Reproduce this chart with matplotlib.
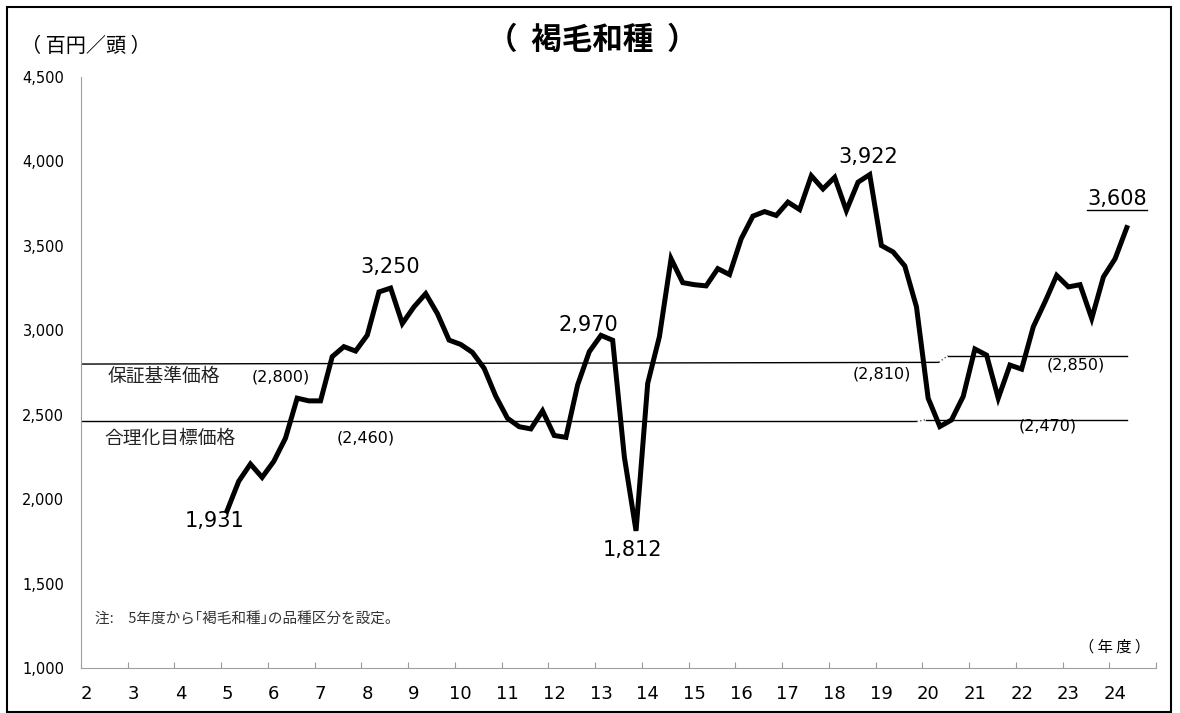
import numpy as np
import matplotlib
matplotlib.use("Agg")
import matplotlib.pyplot as plt
from matplotlib.lines import Line2D
from matplotlib.patches import Rectangle

plt.rcParams['font.family'] = ['DejaVu Sans', 'Noto Sans CJK JP']
JP = ['Noto Sans CJK JP', 'DejaVu Sans']

# fiscal years on the axis, data is quarterly from FY5 Q1
years = list(range(2, 25))
first_year = 5
prices = [1931, 2106, 2208, 2129, 2224, 2361, 2598, 2582,
          2582, 2844, 2903, 2877, 2971, 3227, 3250, 3040,
          3139, 3217, 3099, 2942, 2916, 2869, 2775, 2609,
          2479, 2429, 2416, 2523, 2377, 2366, 2676, 2873,
          2970, 2941, 2250, 1812, 2686, 2962, 3424, 3282,
          3270, 3263, 3365, 3330, 3542, 3676, 3703, 3680,
          3759, 3715, 3915, 3837, 3906, 3709, 3877, 3922,
          3502, 3464, 3381, 3139, 2598, 2430, 2469, 2608,
          2889, 2853, 2598, 2794, 2770, 3021, 3168, 3325,
          3257, 3270, 3070, 3316, 3424, 3608]

# 保証基準価格 / 合理化目標価格
guarantee_old = [2800, 2810]
guarantee_new = 2850
target_old = 2460
target_new = 2470

# labelled points (position in prices) and pixel offsets of the label
label_pts = [0, 14, 32, 35, 55, 77]
label_off = [(-12, -10), (0, 21), (-13, 10), (-4, -19), (-1, 18), (-10, 29)]

x0 = (first_year - years[0]) * 4
xq = np.arange(x0, x0 + len(prices))
x_end = xq[-1]

fig = plt.figure(figsize=(11.8, 7.13), dpi=100)
ax = fig.add_axes([81 / 1180, 1 - 668 / 713, 1075 / 1180, 591 / 713])

# reference price lines
ax.plot([-0.5, 72.9], guarantee_old, color='black', lw=1.0)
ax.plot([72.9, 73.7], [guarantee_old[1], guarantee_new], color='#555555', lw=1.0, ls=':')
ax.plot([73.7, x_end], [guarantee_new, guarantee_new], color='black', lw=1.0)
ax.plot([-0.5, 71.0], [target_old, target_old], color='black', lw=1.0)
ax.plot([71.0, 71.8], [target_old, target_new], color='#555555', lw=1.0, ls=':')
ax.plot([71.8, x_end], [target_new, target_new], color='black', lw=1.0)

ax.plot(xq, prices, color='black', lw=3.6, solid_joinstyle='miter')

texts = []
for p, off in zip(label_pts, label_off):
    t = ax.annotate(f"{prices[p]:,}", (xq[p], prices[p]), xytext=off,
                    textcoords='offset pixels', ha='center', va='center',
                    fontsize=15)
    texts.append(t)

ax.text(1.8, 2725, '保証基準価格', family=JP, fontsize=13.5, va='center', color='#222222')
ax.text(1.5, 2361, '合理化目標価格', family=JP, fontsize=13.5, va='center', color='#222222')
ax.text(16.6, 2721, '(2,800)', fontsize=11.5, ha='center', va='center')
ax.text(23.9, 2361, '(2,460)', fontsize=11.5, ha='center', va='center')
ax.text(68.0, 2740, '(2,810)', fontsize=11.5, ha='center', va='center')
ax.text(84.6, 2793, '(2,850)', fontsize=11.5, ha='center', va='center')
ax.text(82.2, 2434, '(2,470)', fontsize=11.5, ha='center', va='center')

ax.text(0.7, 1284, '注:　5年度から｢褐毛和種｣の品種区分を設定。', family=JP,
        fontsize=10.5, va='center', color='#333333')
ax.text(91.0, 1122, '（ 年 度 ）', family=JP, fontsize=11, ha='right', va='center')

ax.set_xlim(-0.5, 91.5)
ax.set_ylim(1000, 4500)
ax.set_xticks(np.arange(-0.5, 92, 4))
ax.set_xticklabels([])
ax.set_xticks(np.arange(0, len(years) * 4, 4), minor=True)
ax.set_xticklabels([str(y) for y in years], minor=True, fontsize=13)
ax.tick_params(axis='x', which='major', direction='in', length=4, color='#999999')
ax.tick_params(axis='x', which='minor', length=0, pad=12)
ax.set_yticks(np.arange(1000, 4501, 500))
ax.set_yticklabels([f"{v:,}" for v in range(1000, 4501, 500)], fontsize=10.5)
ax.tick_params(axis='y', length=0, pad=12)
for s in ['top', 'right']:
    ax.spines[s].set_visible(False)
for s in ['left', 'bottom']:
    ax.spines[s].set_color('#a0a0a0')

fig.text(592 / 1180, 1 - 40 / 713, '（  褐毛和種  ）', family=JP, fontsize=22,
         fontweight='bold', ha='center', va='center')
fig.text(86 / 1180, 1 - 47 / 713, '（ 百円／頭 ）', family=JP, fontsize=14.5,
         ha='center', va='center')

fig.patches.append(Rectangle((7 / 1180, 1 / 713), 1164 / 1180, 705 / 713,
                             transform=fig.transFigure, fill=False,
                             edgecolor='black', lw=1.5))

# underline the latest value
fig.canvas.draw()
bb = texts[-1].get_window_extent()
fig.lines.append(Line2D([bb.x0, bb.x1], [bb.y0 - 1, bb.y0 - 1], transform=None,
                        color='black', lw=1.0))

fig.savefig('out.png', dpi=100)
